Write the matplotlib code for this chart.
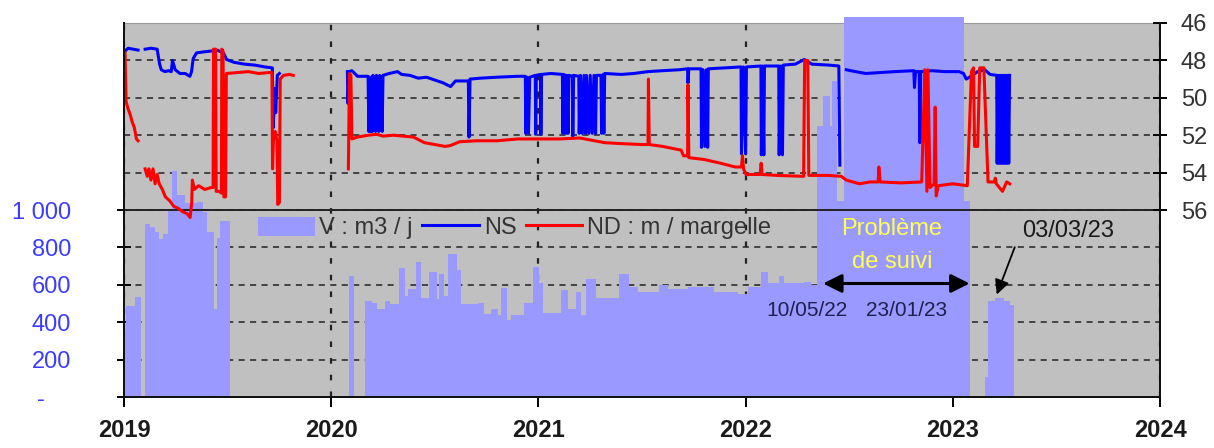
import matplotlib
matplotlib.use('Agg')
import matplotlib.pyplot as plt
import matplotlib.transforms as mtransforms
from matplotlib.patches import Patch
from matplotlib.lines import Line2D

nan = float('nan')

plt.rcParams['font.family'] = ['Liberation Sans', 'DejaVu Sans']

# daily volume (m3/j), step values starting at each date (decimal years)
vol_t = [2019.000, 2019.010, 2019.052, 2019.081, 2019.102, 2019.126, 2019.150, 2019.170,
         2019.190, 2019.212, 2019.232, 2019.257, 2019.295, 2019.353, 2019.382, 2019.402,
         2019.436, 2019.450, 2019.464, 2019.513,
         2020.085, 2020.112, 2020.161, 2020.199, 2020.223, 2020.262, 2020.286, 2020.325,
         2020.354, 2020.373, 2020.407, 2020.431, 2020.470, 2020.509, 2020.518, 2020.543,
         2020.562, 2020.605, 2020.625, 2020.707, 2020.736, 2020.770, 2020.804, 2020.818,
         2020.847, 2020.867, 2020.929, 2020.973, 2021.002, 2021.021, 2021.108, 2021.142,
         2021.181, 2021.205, 2021.229, 2021.278, 2021.316, 2021.389, 2021.437, 2021.481,
         2021.582, 2021.626, 2021.722, 2021.848, 2021.964, 2022.012, 2022.075, 2022.109,
         2022.162, 2022.187, 2022.283, 2022.317, 2022.346, 2022.375, 2022.409, 2022.419,
         2022.443, 2022.477, 2023.052, 2023.081, 2023.154, 2023.169, 2023.202, 2023.246,
         2023.275, 2023.294]
vol_v = [360, 485, 537, 0, 925, 908, 880, 845,
         870, 1000, 1210, 1080, 1035, 1043, 990, 880,
         470, 850, 940, 0,
         647, 0, 512, 505, 468, 515, 495, 688,
         539, 575, 722, 532, 668, 525, 656, 540,
         763, 680, 495, 505, 446, 473, 441, 581,
         414, 441, 505, 693, 610, 451, 571, 468,
         559, 441, 629, 527, 532, 656, 586, 559,
         600, 580, 586, 559, 550, 586, 667, 608,
         645, 608, 617, 600, 1450, 1610, 1450, 1690,
         1050, 2030, 1050, 0, 108, 515, 530, 515,
         490, 0]

# NS : niveau statique (m / margelle)
ns_t = [2019.005, 2019.020, 2019.045, 2019.068, nan,
        2019.102, 2019.130, 2019.160, 2019.172, 2019.180, 2019.198, 2019.215, 2019.228,
        2019.234, 2019.247, 2019.270, 2019.295, 2019.318, 2019.326, 2019.334, 2019.350,
        2019.380, 2019.420, 2019.450, 2019.480, 2019.495, 2019.530, 2019.580, 2019.630,
        2019.680, 2019.716, 2019.720, 2019.728, 2019.732, 2019.740, 2019.750, nan,
        2020.078, 2020.081, 2020.086, 2020.100, 2020.127, 2020.178,
        2020.182, 2020.186, 2020.190, 2020.194, 2020.198, 2020.202, 2020.206, 2020.210,
        2020.214, 2020.218, 2020.222, 2020.226, 2020.230, 2020.234, 2020.238, 2020.242,
        2020.246, 2020.250,
        2020.280, 2020.320, 2020.340, 2020.380, 2020.420, 2020.460, 2020.500, 2020.540,
        2020.576, 2020.600, 2020.640, 2020.662, 2020.665, 2020.670, 2020.720, 2020.800,
        2020.900, 2020.937, 2020.939, 2020.945, 2020.952, 2020.958, 2020.985, 2020.987,
        2020.990, 2021.010, 2021.012, 2021.015, 2021.060, 2021.116, 2021.118, 2021.121,
        2021.131, 2021.133, 2021.137, 2021.143, 2021.147, 2021.164, 2021.166, 2021.170,
        2021.195, 2021.197, 2021.203, 2021.212, 2021.220, 2021.228, 2021.232, 2021.244,
        2021.250, 2021.260, 2021.268, 2021.276, 2021.280, 2021.302, 2021.305, 2021.312,
        2021.316, 2021.320, 2021.400, 2021.460, 2021.529, 2021.600, 2021.680, 2021.720,
        2021.722, 2021.726, 2021.785, 2021.787, 2021.795, 2021.803, 2021.811, 2021.817,
        2021.820, 2021.900, 2021.978, 2021.980, 2021.990, 2022.000, 2022.004, 2022.074,
        2022.076, 2022.082, 2022.088, 2022.091, 2022.160, 2022.162, 2022.170, 2022.178,
        2022.182, 2022.240, 2022.283, 2022.320, 2022.400, 2022.450, 2022.455, nan,
        2022.486, 2022.530, 2022.580, 2022.650, 2022.720, 2022.812, 2022.815, 2022.820,
        2022.838, 2022.841, 2022.845, 2022.900, 2022.960, 2023.030, 2023.052, 2023.065,
        2023.080, 2023.120, 2023.154, 2023.180, 2023.212,
        2023.214, 2023.218, 2023.222, 2023.226, 2023.230, 2023.234, 2023.238, 2023.242,
        2023.246, 2023.250, 2023.254, 2023.258, 2023.262, 2023.266, 2023.270, 2023.274]
ns_v = [47.5, 47.35, 47.4, 47.45, nan,
        47.4, 47.35, 47.4, 48.2, 48.5, 48.6, 48.55, 48.6,
        48.0, 48.5, 48.7, 48.7, 48.85, 48.6, 47.9, 47.6,
        47.55, 47.5, 47.45, 47.6, 47.95, 48.1, 48.2, 48.25,
        48.35, 48.4, 51.6, 49.5, 50.8, 48.8, 48.7, nan,
        48.6, 50.3, 48.6, 48.55, 48.85, 48.85,
        51.8, 48.9, 51.8, 48.9, 51.8, 48.8, 51.75, 48.9,
        51.8, 48.8, 51.7, 48.9, 51.8, 48.8, 51.75, 48.9,
        51.8, 48.8,
        48.7, 48.6, 48.75, 48.8, 48.95, 48.9, 49.05, 49.2,
        49.4, 49.1, 49.1, 49.1, 52.1, 49.0, 48.95, 48.9,
        48.85, 48.85, 51.9, 48.9, 51.9, 48.9, 48.8, 51.95,
        48.8, 48.75, 51.95, 48.75, 48.7, 48.75, 51.9, 48.75,
        48.8, 51.9, 48.8, 51.9, 48.8, 48.85, 52.05, 48.8,
        48.85, 51.9, 48.8, 51.9, 48.8, 51.9, 48.8, 51.9,
        48.8, 51.9, 48.8, 51.9, 48.8, 48.8, 51.9, 48.75,
        51.9, 48.7, 48.75, 48.7, 48.6, 48.55, 48.5, 48.45,
        49.2, 48.45, 48.45, 52.65, 48.5, 52.6, 48.5, 52.65,
        48.45, 48.4, 48.35, 53.0, 48.35, 53.0, 48.35, 48.3,
        53.05, 48.3, 53.05, 48.3, 48.3, 53.05, 48.3, 53.05,
        48.25, 48.2, 47.95, 48.2, 48.25, 48.3, 53.6, nan,
        48.5, 48.6, 48.7, 48.65, 48.6, 48.55, 49.45, 48.6,
        48.6, 52.4, 48.6, 48.55, 48.6, 48.6, 48.7, 49.0,
        48.9, 48.6, 48.5, 48.75, 48.8,
        53.5, 48.8, 53.5, 48.8, 53.5, 48.8, 53.5, 48.8,
        53.5, 48.8, 53.5, 48.8, 53.5, 48.8, 53.5, 48.8]

# ND : niveau dynamique (m / margelle)
nd_t = [2019.005, 2019.010, 2019.020, 2019.030, 2019.040, 2019.050, 2019.060, 2019.068, nan,
        2019.102, 2019.112, 2019.120, 2019.130, 2019.140, 2019.150, 2019.160, 2019.170,
        2019.185, 2019.200, 2019.220, 2019.240, 2019.260, 2019.285, 2019.305, 2019.319,
        2019.327, 2019.330, 2019.340, 2019.360, 2019.390, 2019.420, 2019.430, 2019.432,
        2019.442, 2019.445, 2019.460, 2019.470, 2019.472, 2019.478, 2019.482, 2019.490,
        2019.494, 2019.550, 2019.600, 2019.650, 2019.700, 2019.714, 2019.717, 2019.722,
        2019.730, 2019.738, 2019.742, 2019.750, 2019.754, 2019.770, 2019.800, 2019.817, nan,
        2020.083, 2020.088, 2020.095, 2020.100, 2020.127, 2020.180, 2020.220, 2020.250,
        2020.300, 2020.397, 2020.450, 2020.500, 2020.550, 2020.576, 2020.620, 2020.700,
        2020.800, 2020.900, 2021.000, 2021.100, 2021.200, 2021.320, 2021.400, 2021.500,
        2021.529, 2021.531, 2021.535, 2021.600, 2021.689, 2021.700, 2021.720, 2021.722,
        2021.726, 2021.800, 2021.880, 2021.950, 2021.980, 2021.985, 2021.990, 2022.003,
        2022.070, 2022.075, 2022.080, 2022.150, 2022.280, 2022.285, 2022.300, 2022.305,
        2022.400, 2022.462, 2022.486, 2022.550, 2022.600, 2022.640, 2022.643, 2022.650,
        2022.750, 2022.850, 2022.865, 2022.875, 2022.880, 2022.890, 2022.910, 2022.915,
        2022.920, 2022.930, 2023.000, 2023.070, 2023.090, 2023.100, 2023.105, 2023.120,
        2023.130, 2023.150, 2023.170, 2023.200, 2023.205, 2023.210, 2023.240, 2023.260,
        2023.275]
nd_v = [47.6, 50.2, 50.6, 50.9, 51.3, 51.6, 52.2, 52.3, nan,
        53.8, 54.2, 53.8, 54.4, 53.8, 54.6, 54.1, 54.6,
        54.9, 55.3, 55.5, 55.8, 55.9, 56.1, 56.2, 56.4,
        55.6, 54.4, 54.9, 54.7, 54.9, 54.8, 54.8, 47.4,
        47.4, 55.0, 55.0, 55.1, 47.4, 47.5, 55.3, 55.3,
        48.7, 48.65, 48.6, 48.7, 48.65, 48.65, 53.8, 52.0,
        51.8, 52.3, 55.7, 55.6, 49.0, 48.8, 48.75, 48.8, nan,
        53.8, 48.7, 48.8, 52.2, 52.1, 52.0, 51.95, 52.05,
        52.0, 52.1, 52.4, 52.5, 52.6, 52.55, 52.35, 52.3,
        52.3, 52.2, 52.2, 52.2, 52.15, 52.4, 52.45, 52.5,
        52.5, 49.0, 52.5, 52.6, 52.8, 53.1, 53.1, 49.3,
        53.2, 53.3, 53.5, 53.7, 53.7, 53.1, 53.8, 54.1,
        54.1, 53.5, 54.1, 54.15, 54.2, 48.0, 48.0, 54.15,
        54.15, 54.2, 54.4, 54.6, 54.5, 54.5, 53.7, 54.5,
        54.55, 54.5, 48.5, 55.0, 48.5, 54.8, 54.6, 50.5,
        55.25, 54.7, 54.6, 54.7, 48.6, 48.4, 52.6, 52.6,
        48.4, 48.4, 54.5, 54.5, 54.3, 54.6, 55.0, 54.5,
        54.6]

years = [2019, 2020, 2021, 2022, 2023, 2024]
vol_ticks = [0, 200, 400, 600, 800, 1000]
vol_ticklabels = ['-    ', '200', '400', '600', '800', '1 000']
depth_ticks = [46, 48, 50, 52, 54, 56]

W, H = 1214, 448
fig = plt.figure(figsize=(W / 100, H / 100), dpi=100)
ax = fig.add_axes([124 / W, 51 / H, (1160 - 124) / W, (397 - 23) / H])
ax.set_facecolor('#c0c0c0')
ax_d = ax.twinx()

ax.set_xlim(2019, 2024)
ax.set_ylim(0, 2000)
ax_d.set_ylim(66, 46)

# grids (under the volume bars)
ax.set_axisbelow(True)
ax.xaxis.grid(True, color='#222222', linestyle=(0, (2.5, 5)), linewidth=1.6)
ax.set_yticks(vol_ticks)
ax.yaxis.grid(True, color='#222222', linestyle=(0, (4, 3.5)), linewidth=1.1)
trans = mtransforms.blended_transform_factory(ax.transAxes, ax_d.transData)
for lev in depth_ticks[1:-1]:
    ax.plot([0, 1], [lev, lev], transform=trans, color='#222222',
            linestyle=(0, (4, 3.5)), linewidth=1.1, zorder=0.6)

ax.fill_between(vol_t, vol_v, step='post', color='#9999ff', linewidth=0,
                zorder=1, clip_on=False)
ax.axhline(1000, color='#222222', linewidth=1.4, zorder=3)

ax_d.plot(ns_t, ns_v, color='#0000ff', linewidth=2.2)
ax_d.plot(nd_t, nd_v, color='#ff0000', linewidth=2.2)

# axes styling
for a in (ax, ax_d):
    a.spines['top'].set_visible(False)
ax.spines['top'].set_visible(True)
ax.spines['top'].set_color('#9a9a9a')
ax.spines['top'].set_zorder(0.8)
for s in ('left', 'right', 'bottom'):
    ax.spines[s].set_color('#111111')
    ax_d.spines[s].set_color('#111111')
    ax.spines[s].set_linewidth(1.4)
    ax_d.spines[s].set_linewidth(1.4)

ax.set_xticks(years)
ax.set_xticklabels([str(y) for y in years], fontsize=17, fontweight='bold', color='#1a1a1a')
ax.tick_params(axis='x', direction='out', length=7, width=1.4, pad=9)
ax.set_yticklabels(vol_ticklabels, fontsize=17, color='#3c3cff')
ax.tick_params(axis='y', direction='inout', length=10, width=1.4, pad=33)
ax_d.set_yticks(depth_ticks)
ax_d.set_yticklabels([str(d) for d in depth_ticks], fontsize=17, color='#333333')
ax_d.tick_params(axis='y', direction='inout', length=10, width=1.4, pad=10)

# annotations
ax.text(2022.707, 898, 'Problème', ha='center', va='center', fontsize=17, color='#ffff4d')
ax.text(2022.707, 720, 'de suivi', ha='center', va='center', fontsize=17, color='#ffff4d')
ax.annotate('', xy=(2022.374, 607), xytext=(2023.081, 607),
            arrowprops=dict(arrowstyle='<|-|>', color='black', lw=2.2,
                            mutation_scale=28, shrinkA=0, shrinkB=0))
ax.text(2022.298, 462, '10/05/22', ha='center', va='center', fontsize=15, color='#1f1f4f')
ax.text(2022.777, 462, '23/01/23', ha='center', va='center', fontsize=15, color='#1f1f4f')
ax.text(2023.557, 887, '03/03/23', ha='center', va='center', fontsize=17, color='#1a1a1a')
ax.annotate('', xy=(2023.212, 548), xytext=(2023.299, 801),
            arrowprops=dict(arrowstyle='-|>', color='black', lw=1.3,
                            mutation_scale=22, shrinkA=0, shrinkB=0))

handles = [Patch(facecolor='#9999ff', edgecolor='none'),
           Line2D([], [], color='#0000ff', linewidth=2.2),
           Line2D([], [], color='#ff0000', linewidth=2.2)]
labels = ['V : m3 / j', 'NS', 'ND : m / margelle']
fig.legend(handles, labels, loc='center left', bbox_to_anchor=(258 / W, 1 - 228 / H),
           ncol=3, frameon=False, fontsize=17, handlelength=2.4, handleheight=0.85,
           handletextpad=0.2, columnspacing=0.4, borderpad=0, borderaxespad=0,
           labelcolor='#333333')

fig.savefig('out.png', dpi=100)
